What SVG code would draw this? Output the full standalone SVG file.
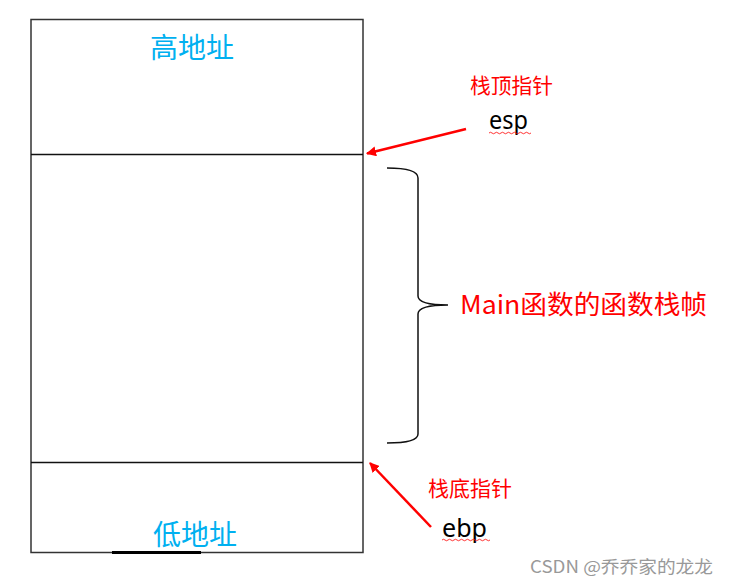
<svg xmlns="http://www.w3.org/2000/svg" width="729" height="586" viewBox="0 0 729 586">
<defs>
<style>
.cjk{font-family:"Noto Sans CJK SC","Noto Sans",sans-serif;}
.lat{font-family:"Noto Sans","Noto Sans CJK SC",sans-serif;}
.blue{fill:#00b0f0;}
.red{fill:#ff0000;}
.box{fill:#ffffff;stroke:#333333;stroke-width:1.5;}
.arrow{stroke:#ff0000;stroke-width:2.5;fill:none;marker-end:url(#ah);}
.wavy{stroke:#ff0000;stroke-width:0.8;fill:none;}
</style>
<marker id="ah" viewBox="0 0 10 10" refX="9" refY="5" markerWidth="4" markerHeight="4" orient="auto" markerUnits="strokeWidth">
<path d="M0,0 L10,5 L0,10 Z" fill="#ff0000"/>
</marker>
</defs>
<rect width="729" height="586" fill="#ffffff"/>
<g id="stack">
<rect class="box" x="31" y="19.5" width="332" height="533"/>
<line x1="31" y1="154.5" x2="363" y2="154.5" stroke="#111" stroke-width="1.5"/>
<line x1="31" y1="462.5" x2="363" y2="462.5" stroke="#111" stroke-width="1.5"/>
<line x1="112" y1="552.5" x2="201" y2="552.5" stroke="#000" stroke-width="3"/>
<text class="cjk blue" x="192" y="58" font-size="28" text-anchor="middle">高地址</text>
<text class="cjk blue" x="195" y="545" font-size="28" text-anchor="middle">低地址</text>
</g>
<g id="esp-label">
<text class="cjk red" x="470" y="93" font-size="21" textLength="83" lengthAdjust="spacingAndGlyphs">栈顶指针</text>
<text class="lat" x="489" y="129" font-size="25" fill="#000" textLength="39" lengthAdjust="spacingAndGlyphs">esp</text>
<path class="wavy" d="M489,133 q1.5,-1.5 3,0 t3,0 t3,0 t3,0 t3,0 t3,0 t3,0 t3,0 t3,0 t3,0 t3,0 t3,0 t3,0 t3,0"/>
</g>
<g id="ebp-label">
<text class="cjk red" x="428" y="496" font-size="21" textLength="84" lengthAdjust="spacingAndGlyphs">栈底指针</text>
<text class="lat" x="442" y="536.5" font-size="25" fill="#000" textLength="45" lengthAdjust="spacingAndGlyphs">ebp</text>
<path class="wavy" d="M442,540 q1.5,-1.5 3,0 t3,0 t3,0 t3,0 t3,0 t3,0 t3,0 t3,0 t3,0 t3,0 t3,0 t3,0 t3,0 t3,0 t3,0 t3,0"/>
</g>
<g id="frame-label">
<path d="M387,168 C405,168 418,170 418,178 L418,296 C418,302 428,305 448,305 C428,305 418,308 418,314 L418,434 C418,441 405,443 387,443" fill="none" stroke="#111" stroke-width="1.5"/>
<text class="cjk red" x="460" y="314" font-size="26" textLength="247" lengthAdjust="spacingAndGlyphs">Main函数的函数栈帧</text>
</g>
<g id="connectors">
<line class="arrow" x1="466" y1="129" x2="367" y2="153.5"/>
<line class="arrow" x1="431" y1="527" x2="370" y2="463"/>
</g>
<g id="watermark">
<text class="cjk" x="530" y="573" font-size="17" fill="#999999" textLength="183" lengthAdjust="spacingAndGlyphs">CSDN @乔乔家的龙龙</text>
</g>
</svg>
